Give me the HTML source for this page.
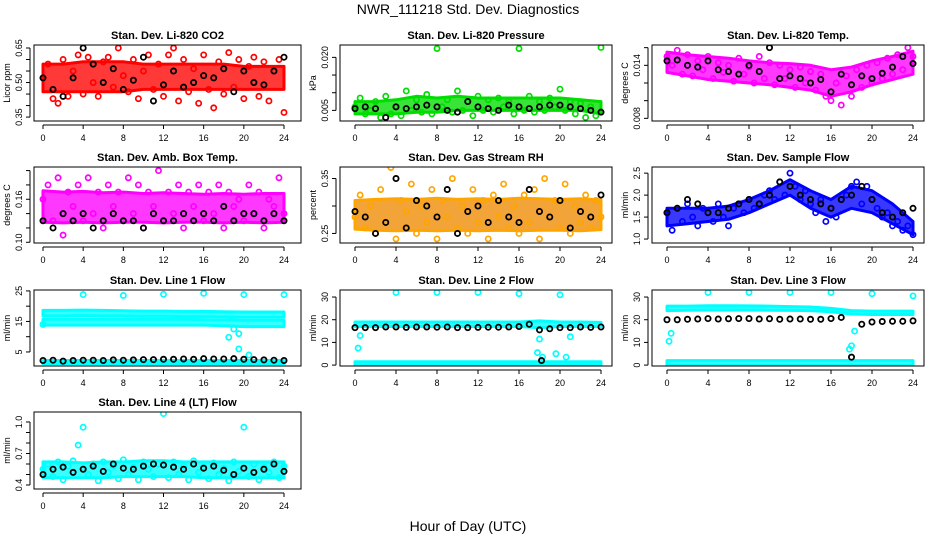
<!DOCTYPE html>
<html><head><meta charset="utf-8">
<style>
html,body{margin:0;padding:0;background:#fff;}
svg{display:block;font-family:"Liberation Sans",Arial,sans-serif;}
</style></head>
<body>
<svg id="chart" width="936" height="540" viewBox="0 0 936 540" xmlns="http://www.w3.org/2000/svg">
<text x="468" y="14" font-size="14" text-anchor="middle">NWR_111218  Std. Dev. Diagnostics</text>
<text x="468" y="531" font-size="14" text-anchor="middle">Hour of Day (UTC)</text>
<g id="panels"></g>
</svg>
<script>
// ---- shared hour grids ----
const bandHours = [0,2,4,6,8,10,12,14,16,18,20,22,24];
const xTicks = [0,4,8,12,16,20,24];

// ---- Panel 1: CO2 ----
const co2BandLo = [0.46,0.46,0.46,0.46,0.46,0.47,0.47,0.47,0.47,0.47,0.47,0.47,0.47];
const co2BandHi = [0.58,0.58,0.59,0.59,0.59,0.58,0.58,0.58,0.58,0.58,0.57,0.57,0.57];
const co2Pts = [0.52,0.58,0.43,0.41,0.60,0.44,0.55,0.62,0.45,0.61,0.50,0.44,0.59,0.61,0.48,0.65,0.53,0.46,0.60,0.43,0.55,0.62,0.47,0.58,0.44,0.62,0.65,0.42,0.60,0.46,0.56,0.41,0.62,0.47,0.39,0.59,0.45,0.63,0.48,0.60,0.43,0.57,0.61,0.44,0.59,0.42,0.55,0.60,0.37];
const co2Black = [0.52,0.47,0.44,0.52,0.65,0.58,0.50,0.56,0.47,0.51,0.61,0.42,0.49,0.55,0.48,0.50,0.53,0.52,0.56,0.46,0.55,0.50,0.49,0.55,0.61];

// ---- Panel 2: Pressure ----
const presBandLo = [0.004,0.004,0.004,0.0045,0.0045,0.005,0.005,0.005,0.005,0.005,0.005,0.005,0.004];
const presBandHi = [0.0075,0.0075,0.008,0.009,0.0085,0.009,0.0085,0.0085,0.0085,0.0085,0.0085,0.008,0.0075];
const presPts = [0.006,0.0085,0.004,0.005,0.0075,0.003,0.009,0.004,0.006,0.0035,0.0105,0.005,0.008,0.0045,0.0095,0.004,0.0225,0.006,0.008,0.0045,0.0105,0.005,0.0075,0.0035,0.009,0.005,0.008,0.0045,0.0085,0.006,0.0075,0.004,0.0225,0.005,0.009,0.0045,0.0075,0.005,0.0085,0.006,0.011,0.005,0.0075,0.004,0.007,0.003,0.006,0.0035,0.0228];
const presBlack = [0.0055,0.006,0.0055,0.003,0.006,0.0055,0.006,0.0065,0.006,0.005,0.0045,0.0075,0.006,0.0055,0.005,0.0065,0.006,0.0055,0.006,0.0065,0.0065,0.006,0.0055,0.005,0.0045];

// ---- Panel 3: Li-820 Temp ----
const tempBandLo = [0.0132,0.0128,0.0124,0.0122,0.0120,0.0118,0.0115,0.0112,0.0105,0.0110,0.0118,0.0124,0.0130];
const tempBandHi = [0.0155,0.0152,0.0150,0.0148,0.0145,0.0143,0.0142,0.0140,0.0135,0.0138,0.0145,0.0150,0.0156];
const tempPts = [0.0150,0.0140,0.0157,0.0130,0.0152,0.0128,0.0145,0.0135,0.0150,0.0125,0.0143,0.0132,0.0140,0.0122,0.0148,0.0130,0.0138,0.0120,0.0150,0.0125,0.0143,0.0118,0.0140,0.0125,0.0135,0.0115,0.0138,0.0120,0.0133,0.0112,0.0130,0.0105,0.0100,0.0120,0.0095,0.0128,0.0105,0.0135,0.0115,0.0140,0.0120,0.0143,0.0125,0.0148,0.0130,0.0152,0.0135,0.0160,0.0150];
const tempBlack = [0.0145,0.0146,0.0140,0.0138,0.0145,0.0135,0.0133,0.0130,0.0140,0.0133,0.0160,0.0125,0.0128,0.0125,0.0120,0.0124,0.0110,0.0130,0.0118,0.0128,0.0125,0.0131,0.0138,0.0150,0.0142];

// ---- Panel 4: Amb Box Temp ----
const ambBandLo = [0.128,0.127,0.128,0.127,0.128,0.128,0.127,0.128,0.128,0.127,0.128,0.127,0.128];
const ambBandHi = [0.172,0.170,0.171,0.169,0.170,0.168,0.169,0.168,0.167,0.168,0.167,0.168,0.168];
const ambPts = [0.16,0.18,0.13,0.19,0.11,0.17,0.15,0.18,0.13,0.19,0.14,0.17,0.12,0.18,0.15,0.17,0.13,0.19,0.14,0.18,0.12,0.17,0.15,0.20,0.13,0.17,0.14,0.18,0.12,0.17,0.15,0.18,0.13,0.17,0.14,0.18,0.12,0.17,0.15,0.16,0.13,0.18,0.14,0.17,0.12,0.16,0.15,0.19,0.14];
const ambBlack = [0.13,0.12,0.14,0.13,0.14,0.12,0.13,0.14,0.13,0.13,0.12,0.14,0.13,0.13,0.14,0.13,0.14,0.13,0.15,0.13,0.14,0.14,0.13,0.14,0.13];

// ---- Panel 5: Gas Stream RH ----
const rhBandLo = [0.258,0.256,0.255,0.256,0.255,0.256,0.255,0.256,0.255,0.256,0.256,0.255,0.257];
const rhBandHi = [0.310,0.312,0.313,0.312,0.314,0.312,0.313,0.312,0.314,0.313,0.312,0.313,0.311];
const rhPts = [0.28,0.32,0.26,0.30,0.25,0.33,0.27,0.37,0.24,0.31,0.29,0.34,0.25,0.30,0.27,0.33,0.24,0.31,0.28,0.35,0.26,0.30,0.25,0.33,0.27,0.31,0.24,0.32,0.28,0.34,0.26,0.30,0.25,0.32,0.27,0.33,0.24,0.35,0.28,0.31,0.26,0.34,0.25,0.30,0.27,0.32,0.26,0.31,0.28];
const rhBlack = [0.29,0.28,0.25,0.27,0.35,0.26,0.31,0.30,0.28,0.33,0.25,0.29,0.30,0.27,0.31,0.28,0.27,0.33,0.29,0.28,0.31,0.26,0.29,0.28,0.32];

// ---- Panel 6: Sample Flow ----
const sfBandLo = [1.3,1.35,1.4,1.45,1.6,1.8,2.0,1.7,1.5,1.7,1.6,1.35,1.1];
const sfBandHi = [1.7,1.7,1.7,1.75,1.9,2.1,2.35,2.1,1.9,2.2,2.1,1.8,1.4];
const sfPts = [1.6,1.2,1.7,1.4,1.8,1.5,1.3,1.7,1.6,1.4,1.8,1.5,1.3,1.7,1.8,1.6,1.9,1.7,1.8,2.0,2.1,1.9,2.3,2.0,2.5,2.2,1.9,2.1,1.8,1.6,1.9,1.4,1.7,1.5,1.9,2.0,2.2,2.3,1.8,2.2,1.9,1.7,1.5,1.6,1.3,1.4,1.2,1.3,1.1];
const sfBlack = [1.6,1.7,1.9,1.8,1.6,1.6,1.7,1.8,1.9,1.8,2.0,2.3,2.2,2.0,1.9,1.8,1.7,1.9,2.0,2.2,1.9,1.6,1.5,1.6,1.7];

// ---- Panel 7: Line 1 Flow ----
const l1BandAlo = [16.8,16.8,16.9,16.8,16.8,16.7,16.7,16.6,16.6,16.5,16.4,16.4,16.4];
const l1BandAhi = [18.6,18.6,18.7,18.6,18.5,18.4,18.4,18.3,18.3,18.2,18.1,18.1,18.1];
const l1BandBlo = [13.8,13.8,13.8,13.8,13.8,13.8,13.8,13.8,13.8,13.6,13.3,13.3,13.3];
const l1BandBhi = [15.7,15.7,15.7,15.7,15.7,15.7,15.7,15.7,15.6,15.5,15.4,15.4,15.4];
const l1BandClo = [1.2,1.2,1.2,1.2,1.2,1.2,1.2,1.2,1.2,1.2,1.2,1.2,1.2];
const l1BandChi = [2.2,2.2,2.2,2.2,2.2,2.2,2.2,2.2,2.2,2.2,2.2,2.2,2.2];
const l1OutHours = [4,8,12,16,20,24,18.5,19,19.5,20.5,19.5,0];
const l1OutVals = [23.8,23.5,23.9,24.2,23.8,23.8,9.8,12.5,6,4,11,14];
const l1Black = [2.2,2.3,2.0,2.2,2.3,2.3,2.2,2.4,2.3,2.4,2.5,2.5,2.6,2.6,2.7,2.6,2.8,2.7,2.7,2.8,2.6,2.5,2.4,2.3,2.2];

// ---- Panel 8: Line 2 Flow ----
const l2BandAlo = [17.0,17.0,17.0,17.0,17.0,17.0,17.0,17.0,17.0,16.5,17.0,17.0,17.0];
const l2BandAhi = [19.0,19.0,19.0,19.0,19.0,19.0,19.0,19.0,19.0,19.5,19.0,19.0,18.8];
const l2BandBlo = [0,0,0,0,0,0,0,0,0,0,0,0,0];
const l2BandBhi = [1.5,1.5,1.5,1.5,1.5,1.5,1.5,1.5,1.5,1.5,1.5,1.5,1.5];
const l2OutHours = [0.3,0.5,4,8,12,16,17.8,18,18.3,19.6,20,20.6,21];
const l2OutVals = [7.5,13,32,32,32,31.5,5.5,11.5,3.5,5,31,3.5,12.5];
const l2Black = [16.5,16.5,16.5,16.8,16.8,16.6,16.8,16.8,16.7,16.8,16.5,16.5,16.6,16.7,16.7,16.8,17.0,18.0,15.5,16.0,16.5,16.5,16.8,16.6,16.8];

// ---- Panel 9: Line 3 Flow ----
const l3BandAlo = [24.0,24.2,24.3,24.3,24.3,24.2,24.1,24.0,23.5,22.5,22.3,22.3,22.3];
const l3BandAhi = [26.0,26.0,26.2,26.2,26.1,26.0,25.8,25.6,25.0,24.0,23.8,23.8,23.8];
const l3BandBlo = [0,0,0,0,0,0,0,0,0,0,0,0,0];
const l3BandBhi = [2,2,2,2,2,2,2,2,2,2,2,2,2];
const l3OutHours = [0.2,0.4,4,8,12,16,17.8,18,18.3,20,24];
const l3OutVals = [10.5,14,32,32,32,32,7,8.5,15,31.5,30.5];
const l3Black = [20,20,20.2,20.3,20.5,20.3,20.4,20.5,20.5,20.3,20.4,20.2,20.3,20.3,20.2,20.2,20.5,21,3.5,18,19,19.2,19.3,19.3,19.5];

// ---- Panel 10: Line 4 (LT) Flow ----
const l4BandLo = [0.47,0.47,0.47,0.47,0.48,0.48,0.48,0.48,0.47,0.47,0.47,0.47,0.47];
const l4BandHi = [0.62,0.62,0.61,0.62,0.62,0.63,0.63,0.62,0.62,0.62,0.62,0.62,0.62];
const l4Pts = [0.55,0.60,0.48,0.62,0.45,0.58,0.63,0.78,0.95,0.50,0.60,0.44,0.62,0.52,0.58,0.46,0.64,0.50,0.57,0.45,0.62,0.55,0.48,0.60,1.08,0.47,0.62,0.50,0.58,0.45,0.63,0.52,0.57,0.46,0.61,0.50,0.56,0.44,0.62,0.53,0.95,0.48,0.60,0.45,0.57,0.52,0.62,0.47,0.58];
const l4Black = [0.50,0.55,0.57,0.52,0.55,0.58,0.53,0.60,0.56,0.55,0.58,0.60,0.59,0.57,0.55,0.60,0.56,0.58,0.54,0.50,0.56,0.52,0.55,0.60,0.53];

const NS = "http://www.w3.org/2000/svg";
const cols = [{l:34,r:301,x0:43,x24:284},{l:340,r:612,x0:355,x24:601},{l:652,r:924,x0:667,x24:913}];
const rows = [{t:45,b:121},{t:167,b:243},{t:290,b:366},{t:412,b:489}];

const panels = [
 {name:'co2',title:'Stan. Dev. Li-820 CO2',ylab:'Licor ppm',c:0,r:0,ylim:[0.333,0.663],ticks:[0.35,0.40,0.45,0.50,0.55,0.60,0.65],labels:['0.35','','','0.50','','','0.65'],color:'#ff0000',bands:[[co2BandLo,co2BandHi]],pts:co2Pts,black:co2Black},
 {name:'pressure',title:'Stan. Dev. Li-820 Pressure',ylab:'kPa',c:1,r:0,ylim:[0.002,0.0235],ticks:[0.005,0.010,0.015,0.020],labels:['0.005','','','0.020'],color:'#00dd00',bands:[[presBandLo,presBandHi]],pts:presPts,black:presBlack},
 {name:'temp',title:'Stan. Dev. Li-820 Temp.',ylab:'degrees C',c:2,r:0,ylim:[0.0077,0.0163],ticks:[0.008,0.010,0.012,0.014,0.016],labels:['0.008','','','0.014',''],color:'#ff00ff',bands:[[tempBandLo,tempBandHi]],pts:tempPts,black:tempBlack},
 {name:'amb-box',title:'Stan. Dev. Amb. Box Temp.',ylab:'degrees C',c:0,r:1,ylim:[0.099,0.205],ticks:[0.10,0.12,0.14,0.16,0.18,0.20],labels:['0.10','','','0.16','',''],color:'#ff00ff',bands:[[ambBandLo,ambBandHi]],pts:ambPts,black:ambBlack},
 {name:'rh',title:'Stan. Dev. Gas Stream RH',ylab:'percent',c:1,r:1,ylim:[0.2326,0.371],ticks:[0.25,0.30,0.35],labels:['0.25','','0.35'],color:'#ffa500',bandColor:'#f08a00',bands:[[rhBandLo,rhBandHi]],pts:rhPts,black:rhBlack},
 {name:'sample-flow',title:'Stan. Dev. Sample Flow',ylab:'ml/min',c:2,r:1,ylim:[0.91,2.64],ticks:[1.0,1.5,2.0,2.5],labels:['1.0','1.5','2.0','2.5'],color:'#0000ff',bands:[[sfBandLo,sfBandHi]],pts:sfPts,black:sfBlack},
 {name:'line1',title:'Stan. Dev. Line 1 Flow',ylab:'ml/min',c:0,r:2,ylim:[0.4,25.3],ticks:[5,10,15,20,25],labels:['5','','15','','25'],color:'#00ffff',bands:[[l1BandAlo,l1BandAhi],[l1BandBlo,l1BandBhi],[l1BandClo,l1BandChi]],outH:l1OutHours,outV:l1OutVals,black:l1Black},
 {name:'line2',title:'Stan. Dev. Line 2 Flow',ylab:'ml/min',c:1,r:2,ylim:[-0.4,33.1],ticks:[0,10,20,30],labels:['0','10','20','30'],color:'#00ffff',bands:[[l2BandAlo,l2BandAhi],[l2BandBlo,l2BandBhi]],outH:l2OutHours,outV:l2OutVals,black:l2Black,blackExtraH:[18.2],blackExtraV:[2]},
 {name:'line3',title:'Stan. Dev. Line 3 Flow',ylab:'ml/min',c:2,r:2,ylim:[-0.4,33.1],ticks:[0,10,20,30],labels:['0','10','20','30'],color:'#00ffff',bands:[[l3BandAlo,l3BandAhi],[l3BandBlo,l3BandBhi]],outH:l3OutHours,outV:l3OutVals,black:l3Black},
 {name:'line4',title:'Stan. Dev. Line 4 (LT) Flow',ylab:'ml/min',c:0,r:3,ylim:[0.362,1.095],ticks:[0.4,0.5,0.6,0.7,0.8,0.9,1.0],labels:['0.4','','','0.7','','','1.0'],color:'#00ffff',bands:[[l4BandLo,l4BandHi]],pts:l4Pts,black:l4Black}
];

const root = document.getElementById('panels');
function mk(tag, attrs, parent){
  const e = document.createElementNS(NS, tag);
  for (const k in attrs) e.setAttribute(k, attrs[k]);
  parent.appendChild(e);
  return e;
}
panels.forEach(p => {
  const C = cols[p.c], R = rows[p.r];
  const xs = h => C.x0 + (C.x24 - C.x0) * h / 24;
  const ys = v => R.b - (v - p.ylim[0]) / (p.ylim[1] - p.ylim[0]) * (R.b - R.t);
  const g = mk('g', {}, root);
  
  
  const clipId = 'clip-' + p.name;
  const cp = mk('clipPath', {id: clipId}, g);
  mk('rect', {x: C.l, y: R.t, width: C.r - C.l, height: R.b - R.t}, cp);
  const marks = mk('g', {'clip-path': 'url(#' + clipId + ')'}, g);
  p.bands.forEach((b, bi) => {
    let d = '';
    bandHours.forEach((h, i) => { d += (i ? 'L' : 'M') + xs(h).toFixed(1) + ',' + ys(b[1][i]).toFixed(1); });
    for (let i = bandHours.length - 1; i >= 0; i--) d += 'L' + xs(bandHours[i]).toFixed(1) + ',' + ys(b[0][i]).toFixed(1);
    const path = mk('path', {d: d + 'Z', fill: p.bandColor || p.color, 'fill-opacity': 0.78, stroke: p.color, 'stroke-width': 3, 'stroke-linejoin': 'round'}, marks);
    
    
  });
  if (p.pts) p.pts.forEach((v, i) => {
    const c = mk('circle', {cx: xs(i * 0.5), cy: ys(v), r: 2.6, fill: 'none', stroke: p.color, 'stroke-width': 1.7}, marks);
    
    
  });
  if (p.outH) p.outH.forEach((h, i) => {
    const c = mk('circle', {cx: xs(h), cy: ys(p.outV[i]), r: 2.6, fill: 'none', stroke: p.color, 'stroke-width': 1.7}, marks);
    
    
  });
  p.black.forEach((v, i) => {
    const c = mk('circle', {cx: xs(i), cy: ys(v), r: 2.6, fill: 'none', stroke: '#000', 'stroke-width': 1.8}, marks);
    
    
  });
  if (p.blackExtraH) p.blackExtraH.forEach((h, i) => {
    const c = mk('circle', {cx: xs(h), cy: ys(p.blackExtraV[i]), r: 2.6, fill: 'none', stroke: '#000', 'stroke-width': 1.8}, marks);
    
    
  });
  const box = mk('rect', {x: C.l, y: R.t, width: C.r - C.l, height: R.b - R.t, fill: 'none', stroke: '#000', 'stroke-width': 1}, g);
  
  
  const t = mk('text', {x: (C.l + C.r) / 2, y: R.t - 6, 'font-size': 11, 'font-weight': 'bold', 'text-anchor': 'middle'}, g);
  t.textContent = p.title;
  
  
  const xa = mk('g', {}, g);
  
  
  mk('line', {x1: xs(0), x2: xs(24), y1: R.b + 4, y2: R.b + 4, stroke: '#000'}, xa);
  xTicks.forEach(h => {
    mk('line', {x1: xs(h), x2: xs(h), y1: R.b + 4, y2: R.b + 8, stroke: '#000'}, xa);
    const tl = mk('text', {x: xs(h), y: R.b + 20, 'font-size': 9, 'text-anchor': 'middle'}, xa);
    tl.textContent = h;
    
    
  });
  const ya = mk('g', {}, g);
  
  
  const ax = C.l - 4;
  mk('line', {x1: ax, x2: ax, y1: ys(p.ticks[0]), y2: ys(p.ticks[p.ticks.length - 1]), stroke: '#000'}, ya);
  p.ticks.forEach((v, i) => {
    mk('line', {x1: ax - 4, x2: ax, y1: ys(v), y2: ys(v), stroke: '#000'}, ya);
    if (p.labels[i]) {
      const tl = mk('text', {x: 0, y: 0, 'font-size': 9, 'text-anchor': 'middle', transform: 'translate(' + (ax - 8) + ',' + ys(v) + ') rotate(-90)'}, ya);
      tl.textContent = p.labels[i];
      
      
    }
  });
  const yl = mk('text', {x: 0, y: 0, 'font-size': 9, 'text-anchor': 'middle', transform: 'translate(' + (C.l - 24) + ',' + ((R.t + R.b) / 2) + ') rotate(-90)'}, ya);
  yl.textContent = p.ylab;
  
  
});
</script>
</body></html>
